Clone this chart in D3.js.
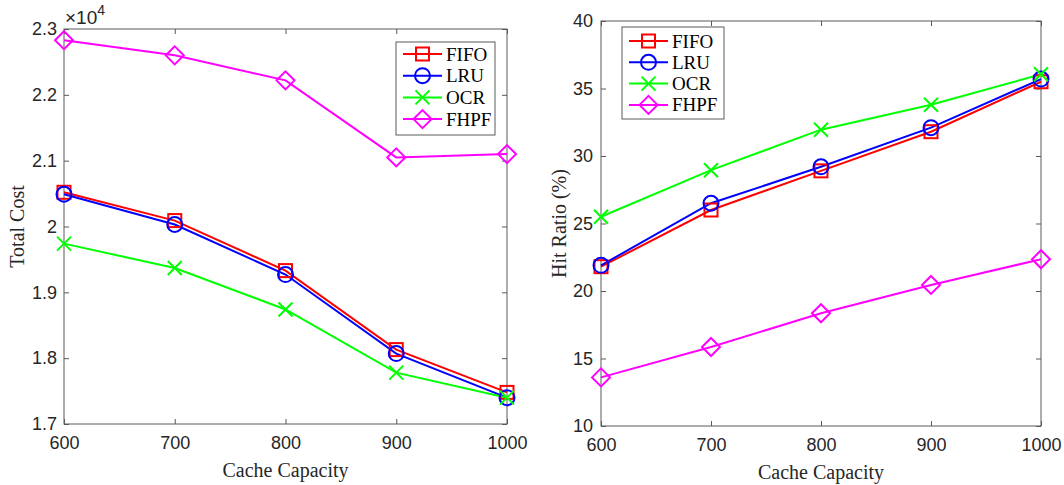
<!DOCTYPE html>
<html><head><meta charset="utf-8">
<script src="https://cdn.jsdelivr.net/npm/d3@7"></script>
<style>body{margin:0;background:#fff}svg{display:block}</style>
</head><body><svg id="c" width="1064" height="485"></svg>
<script>
const capacities = [600, 700, 800, 900, 1000];
const seriesNames = ["FIFO", "LRU", "OCR", "FHPF"];
const seriesColors = ["#ff0000", "#0000ff", "#00ff00", "#ff00ff"];
const seriesMarkers = ["square", "circle", "cross", "diamond"];
// Total cost (x10^4)
const costFIFO = [2.052, 2.009, 1.933, 1.813, 1.748];
const costLRU  = [2.049, 2.003, 1.927, 1.807, 1.740];
const costOCR  = [1.974, 1.937, 1.874, 1.778, 1.740];
const costFHPF = [2.283, 2.260, 2.222, 2.105, 2.110];
// Hit ratio (%)
const hitFIFO = [21.8, 26.0, 28.9, 31.8, 35.5];
const hitLRU  = [21.9, 26.5, 29.2, 32.1, 35.7];
const hitOCR  = [25.5, 28.95, 31.95, 33.8, 36.05];
const hitFHPF = [13.6, 15.85, 18.35, 20.45, 22.35];
const costTicks = [1.7, 1.8, 1.9, 2.0, 2.1, 2.2, 2.3];
const hitTicks = [10, 15, 20, 25, 30, 35, 40];

const svg = d3.select("#c");
const axisColor = "#5a5a5a";
const sans = "Liberation Sans, Arial, sans-serif";
const serif = "Liberation Serif, Times New Roman, serif";

function drawMarker(g, type, x, y, color) {
  if (type === "square") {
    g.append("rect").attr("x", x - 6.5).attr("y", y - 6.5).attr("width", 13).attr("height", 13)
      .attr("fill", "none").attr("stroke", color).attr("stroke-width", 2);
  } else if (type === "circle") {
    g.append("circle").attr("cx", x).attr("cy", y).attr("r", 7.5)
      .attr("fill", "none").attr("stroke", color).attr("stroke-width", 2);
  } else if (type === "cross") {
    const s = 7;
    g.append("path").attr("d", `M${x-s},${y-s}L${x+s},${y+s}M${x-s},${y+s}L${x+s},${y-s}`)
      .attr("stroke", color).attr("stroke-width", 2);
  } else if (type === "diamond") {
    const s = 9;
    g.append("path").attr("d", `M${x},${y-s}L${x+s},${y}L${x},${y+s}L${x-s},${y}Z`)
      .attr("fill", "none").attr("stroke", color).attr("stroke-width", 2);
  }
}

function panel(cfg) {
  const {left, right, top, bottom, yDomain, yTicks, yFmt, data, ylabel, ylabelOff, yPad, legend} = cfg;
  const x = d3.scaleLinear().domain([600, 1000]).range([left, right]);
  const y = d3.scaleLinear().domain(yDomain).range([bottom, top]);
  const g = svg.append("g");
  g.append("rect").attr("x", left).attr("y", top).attr("width", right - left).attr("height", bottom - top)
    .attr("fill", "none").attr("stroke", axisColor).attr("stroke-width", 1);
  const tk = 5;
  const ax = g.append("g").attr("transform", `translate(0,${bottom})`)
    .call(d3.axisBottom(x).tickValues(capacities).tickSizeInner(-tk).tickSizeOuter(0).tickPadding(12).tickFormat(d3.format("d")));
  const axT = g.append("g").attr("transform", `translate(0,${top})`)
    .call(d3.axisTop(x).tickValues(capacities).tickSizeInner(-tk).tickSizeOuter(0).tickFormat(""));
  const ay = g.append("g").attr("transform", `translate(${left},0)`)
    .call(d3.axisLeft(y).tickValues(yTicks).tickSizeInner(-tk).tickSizeOuter(0).tickPadding(yPad).tickFormat(yFmt));
  const ayR = g.append("g").attr("transform", `translate(${right},0)`)
    .call(d3.axisRight(y).tickValues(yTicks).tickSizeInner(-tk).tickSizeOuter(0).tickFormat(""));
  [ax, axT, ay, ayR].forEach(a => {
    a.select(".domain").remove();
    a.selectAll("line").attr("stroke", axisColor);
    a.selectAll("text").attr("font-family", sans).attr("font-size", 18).attr("fill", "#262626");
  });
  g.append("text").attr("x", (left + right) / 2).attr("y", bottom + 53).attr("text-anchor", "middle")
    .attr("font-family", serif).attr("font-size", 20).attr("fill", "#262626")
    .text("Cache Capacity");
  g.append("text").attr("transform", `translate(${left - ylabelOff},${(top + bottom) / 2}) rotate(-90)`).attr("text-anchor", "middle")
    .attr("font-family", serif).attr("font-size", 20).attr("fill", "#262626")
    .text(ylabel);
  const line = d3.line().x((d, i) => x(capacities[i])).y(d => y(d));
  data.forEach((vals, si) => {
    g.append("path").datum(vals).attr("d", line).attr("fill", "none")
      .attr("stroke", seriesColors[si]).attr("stroke-width", 2);
  });
  data.forEach((vals, si) => {
    vals.forEach((v, i) => drawMarker(g, seriesMarkers[si], x(capacities[i]), y(v), seriesColors[si]));
  });
  const L = legend;
  g.append("rect").attr("x", L.x).attr("y", L.y).attr("width", L.w).attr("height", L.h)
    .attr("fill", "#fff").attr("stroke", axisColor).attr("stroke-width", 1);
  seriesNames.forEach((n, si) => {
    const ry = L.y + L.first + si * L.step;
    g.append("line").attr("x1", L.x + 7).attr("x2", L.x + 46).attr("y1", ry).attr("y2", ry)
      .attr("stroke", seriesColors[si]).attr("stroke-width", 2);
    drawMarker(g, seriesMarkers[si], L.x + 26.5, ry, seriesColors[si]);
    g.append("text").attr("x", L.x + 50).attr("y", ry + 6.5).attr("font-family", serif)
      .attr("font-size", 19).attr("fill", "#000").text(n);
  });
  return {x, y, g};
}

const p1 = panel({left: 64, right: 507, top: 29, bottom: 424, yDomain: [1.7, 2.3], yTicks: costTicks,
  yFmt: d => (Math.abs(d - 2) < 1e-9 ? "2" : d3.format(".1f")(d)),
  data: [costFIFO, costLRU, costOCR, costFHPF], ylabel: "Total Cost", ylabelOff: 40, yPad: 7,
  legend: {x: 396, y: 42, w: 99, h: 93, first: 12, step: 21.7}});
const ex = p1.g.append("text").attr("x", 65).attr("y", 24).attr("font-family", sans)
  .attr("font-size", 19).attr("fill", "#262626");
ex.append("tspan").text("\u00d710");
ex.append("tspan").attr("dy", -9).attr("font-size", 14).text("4");

panel({left: 601, right: 1041, top: 21, bottom: 426, yDomain: [10, 40], yTicks: hitTicks,
  yFmt: d3.format("d"), data: [hitFIFO, hitLRU, hitOCR, hitFHPF], ylabel: "Hit Ratio (%)", ylabelOff: 35, yPad: 8,
  legend: {x: 622, y: 27, w: 102, h: 92, first: 14, step: 21.3}});
</script></body></html>
